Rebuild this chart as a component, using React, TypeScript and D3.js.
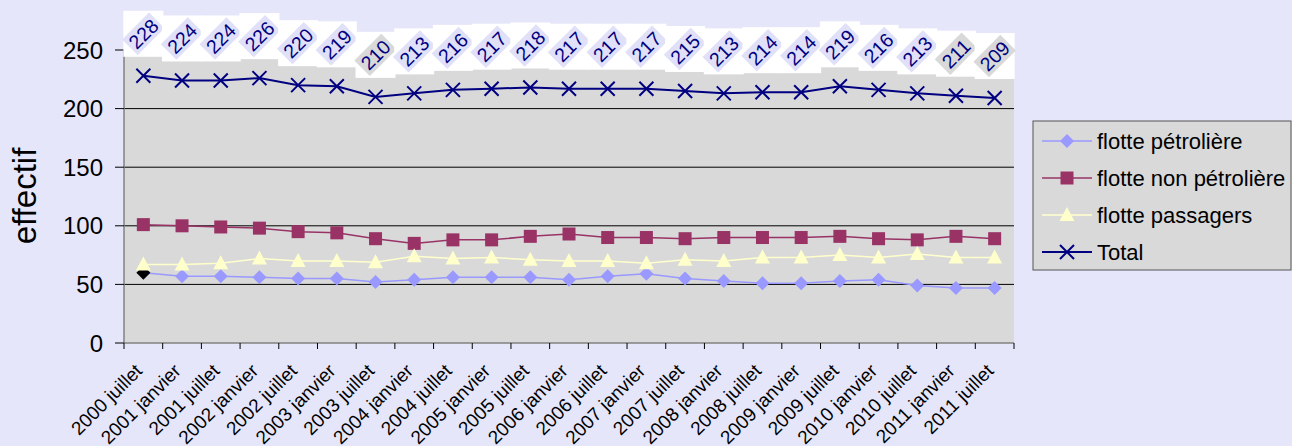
import React from "react";
import * as d3 from "d3";

const categories = [
  "2000 juillet", "2001 janvier", "2001 juillet", "2002 janvier", "2002 juillet",
  "2003 janvier", "2003 juillet", "2004 janvier", "2004 juillet", "2005 janvier",
  "2005 juillet", "2006 janvier", "2006 juillet", "2007 janvier", "2007 juillet",
  "2008 janvier", "2008 juillet", "2009 janvier", "2009 juillet", "2010 janvier",
  "2010 juillet", "2011 janvier", "2011 juillet",
];
const petroliere = [60, 57, 57, 56, 55, 55, 52, 54, 56, 56, 56, 54, 57, 59, 55, 53, 51, 51, 53, 54, 49, 47, 47];
const nonPetroliere = [101, 100, 99, 98, 95, 94, 89, 85, 88, 88, 91, 93, 90, 90, 89, 90, 90, 90, 91, 89, 88, 91, 89];
const passagers = [67, 67, 68, 72, 70, 70, 69, 74, 72, 73, 71, 70, 70, 68, 71, 70, 73, 73, 75, 73, 76, 73, 73];
const total = [228, 224, 224, 226, 220, 219, 210, 213, 216, 217, 218, 217, 217, 217, 215, 213, 214, 214, 219, 216, 213, 211, 209];
const yTicks = [0, 50, 100, 150, 200, 250];

const seriesNames = ["flotte pétrolière", "flotte non pétrolière", "flotte passagers", "Total"];

const W = 1292;
const H = 446;
const BG = "#E6E6FA";
const PLOT = "#D9D9D9";
const FONT = "'Liberation Sans', Arial, sans-serif";

const colors = ["#9999FF", "#993366", "#FFFFCC", "#000080"];

function Marker({ kind, x, y, fill }: { kind: number; x: number; y: number; fill: string }) {
  if (kind === 0) {
    const r = 7;
    return <path d={`M${x},${y - r}L${x + r},${y}L${x},${y + r}L${x - r},${y}Z`} fill={fill} />;
  }
  if (kind === 1) {
    const s = 13;
    return <rect x={x - s / 2} y={y - s / 2} width={s} height={s} fill={fill} />;
  }
  if (kind === 2) {
    return <path d={`M${x},${y - 8}L${x + 7.5},${y + 6}L${x - 7.5},${y + 6}Z`} fill={fill} />;
  }
  const r = 7;
  return (
    <path
      d={`M${x - r},${y - r}L${x + r},${y + r}M${x + r},${y - r}L${x - r},${y + r}`}
      stroke={fill}
      strokeWidth={2}
      fill="none"
    />
  );
}

export default function App() {
  const x = d3.scaleBand<string>().domain(categories).range([124, 1014]);
  const y = d3.scaleLinear().domain([0, 250]).range([343, 50]);
  const cx = (c: string) => (x(c) as number) + x.bandwidth() / 2;

  const data = [petroliere, nonPetroliere, passagers, total];
  const line = d3
    .line<number>()
    .x((_, i) => cx(categories[i]))
    .y((d) => y(d));

  const ticksX = d3.range(categories.length + 1).map((i) => 124 + i * x.bandwidth());

  return (
    <svg
      width={W}
      height={H}
      style={{ position: "absolute", left: 0, top: 0, fontFamily: FONT }}
    >
      <rect x={0} y={0} width={W} height={H} fill={BG} />
      {/* plot area */}
      <rect x={124} y={y(250)} width={1014 - 124} height={y(0) - y(250)} fill={PLOT} />
      {yTicks.filter((t) => t > 0).map((t) => (
        <line key={t} x1={124} x2={1014} y1={y(t)} y2={y(t)} stroke="#000" strokeWidth={1} />
      ))}
      {/* axes */}
      <line x1={124} x2={124} y1={y(250)} y2={y(0)} stroke="#808080" strokeWidth={1.5} />
      <line x1={124} x2={1014} y1={y(0)} y2={y(0)} stroke="#808080" strokeWidth={1.5} />
      {yTicks.map((t) => (
        <g key={t}>
          <line x1={115} x2={124} y1={y(t)} y2={y(t)} stroke="#000" />
          <text x={103} y={y(t)} fontSize={24} textAnchor="end" dominantBaseline="central" fill="#000">
            {t}
          </text>
        </g>
      ))}
      {ticksX.map((t, i) => (
        <line key={i} x1={t} x2={t} y1={y(0)} y2={y(0) + 6} stroke="#000" />
      ))}
      {categories.map((c) => (
        <text
          key={c}
          transform={`translate(${cx(c)},${372}) rotate(-45)`}
          fontSize={19}
          textAnchor="end"
          fill="#000"
        >
          {c}
        </text>
      ))}
      <text
        transform={`translate(36,196) rotate(-90)`}
        fontSize={33}
        textAnchor="middle"
        fill="#000"
      >
        effectif
      </text>

      {/* series */}
      {data.map((vals, si) => (
        <g key={si}>
          <path
            d={line(vals) as string}
            fill="none"
            stroke={colors[si]}
            strokeWidth={si === 3 ? 2 : 1.5}
          />
          {vals.map((v, i) => (
            <Marker
              key={i}
              kind={si}
              x={cx(categories[i])}
              y={y(v)}
              fill={si === 0 && i === 0 ? "#000" : colors[si]}
            />
          ))}
        </g>
      ))}

      {/* total labels */}
      {total.map((v, i) => {
        const px = cx(categories[i]);
        const py = y(v) - 42;
        const inner = py > y(250) + 3 ? PLOT : "#E0E0F8";
        return (
          <g key={i}>
            <rect x={px - 20} y={py - 23} width={40} height={46} fill="#FFFFFF" />
            <g transform={`translate(${px},${py}) rotate(-45)`}>
              <rect x={-19} y={-11} width={38} height={22} fill={inner} />
              <text x={0} y={0} fontSize={19.5} textAnchor="middle" dominantBaseline="central" fill="#000080">
                {v}
              </text>
            </g>
          </g>
        );
      })}

      {/* legend */}
      <rect x={1033} y={121} width={W - 1033 - 1} height={149} fill={PLOT} stroke="#555" strokeWidth={1} />
      {seriesNames.map((n, i) => {
        const ly = 141 + i * 37;
        return (
          <g key={n}>
            <line x1={1042} x2={1092} y1={ly} y2={ly} stroke={colors[i]} strokeWidth={i === 3 ? 2 : 1.5} />
            <Marker kind={i} x={1067} y={ly} fill={colors[i]} />
            <text x={1097} y={ly} fontSize={22} dominantBaseline="central" fill="#000">
              {n}
            </text>
          </g>
        );
      })}
    </svg>
  );
}
